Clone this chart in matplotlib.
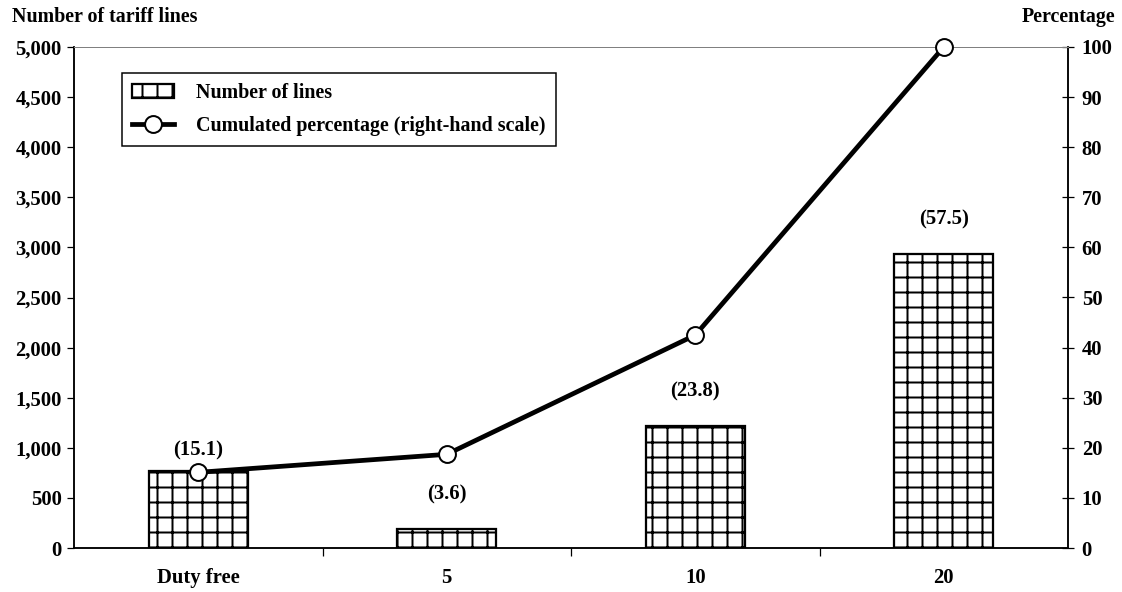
import numpy as np
import matplotlib
matplotlib.use('Agg')
import matplotlib.pyplot as plt
from matplotlib.ticker import FuncFormatter, FixedLocator
from matplotlib.patches import Patch
from matplotlib.lines import Line2D

plt.rcParams['font.family'] = 'Liberation Serif'
plt.rcParams['font.weight'] = 'bold'
plt.rcParams['hatch.linewidth'] = 1.6
plt.rcParams['hatch.color'] = 'black'

# Data
categories = ['Duty free', '5', '10', '20']
num_lines = [770, 185, 1215, 2930]
share_pct = ['(15.1)', '(3.6)', '(23.8)', '(57.5)']
cumulated_pct = [15.1, 18.7, 42.5, 100.0]

x = np.arange(len(categories))

fig = plt.figure(figsize=(1122 / 90, 592 / 90), dpi=90)
ax = fig.add_axes([74 / 1122, 1 - 548 / 592, (1068 - 74) / 1122, (548 - 47) / 592])
ax2 = ax.twinx()

ax.bar(x, num_lines, width=0.4, color='white', edgecolor='black',
       linewidth=1.8, hatch='+', zorder=2)

# share labels above the bars
label_offsets = [8, 20, 20, 20]
for xi, val, txt, off in zip(x, num_lines, share_pct, label_offsets):
    ax.annotate(txt, (xi, val), xytext=(0, off), textcoords='offset points',
                ha='center', va='bottom', fontsize=16.5, fontweight='bold')

ax2.plot(x, cumulated_pct, color='black', linewidth=3.8, marker='o',
         markersize=13.5, markerfacecolor='white', markeredgecolor='black',
         markeredgewidth=1.6, zorder=3, clip_on=False)

ax.set_xlim(-0.5, 3.5)
ax.set_ylim(0, 5000)
ax2.set_ylim(0, 100)

ax.set_yticks(np.arange(0, 5001, 500))
ax.yaxis.set_major_formatter(FuncFormatter(lambda v, p: f'{int(v):,}'))
ax2.set_yticks(np.arange(0, 101, 10))

ax.set_xticks(x)
ax.set_xticklabels(categories)
ax.xaxis.set_minor_locator(FixedLocator([0.5, 1.5, 2.5]))
ax.tick_params(axis='x', which='major', length=0, pad=16, labelsize=16.5)
ax.tick_params(axis='x', which='minor', length=6, width=1, direction='out')
ax.tick_params(axis='y', length=6, width=1, direction='out', labelsize=16.5, pad=4)
ax2.tick_params(axis='y', length=10, width=1, direction='inout', labelsize=16.5, pad=6)

for a in (ax, ax2):
    for lab in a.get_yticklabels() + a.get_xticklabels():
        lab.set_fontweight('bold')
    a.spines['top'].set_color('#808080')
    a.spines['left'].set_linewidth(1.2)
    a.spines['right'].set_linewidth(1.2)
    a.spines['bottom'].set_linewidth(1.2)

fig.text(12 / 1122, 1 - 17 / 592, 'Number of tariff lines', ha='left', va='center',
         fontsize=16, fontweight='bold')
fig.text(1115 / 1122, 1 - 17 / 592, 'Percentage', ha='right', va='center',
         fontsize=16, fontweight='bold')

handles = [
    Patch(facecolor='white', edgecolor='black', hatch='+', linewidth=1.8),
    Line2D([], [], color='black', linewidth=3.8, marker='o', markersize=13.5,
           markerfacecolor='white', markeredgecolor='black', markeredgewidth=1.6),
]
leg = ax2.legend(handles, ['Number of lines', 'Cumulated percentage (right-hand scale)'],
                 loc='upper left', bbox_to_anchor=(48 / 994, 1 - 26 / 501),
                 frameon=True, fancybox=False, edgecolor='black', framealpha=1,
                 prop={'size': 16, 'weight': 'bold'}, handlelength=2.1,
                 handleheight=0.7, borderpad=0.5, labelspacing=0.65, handletextpad=1.1,
                 borderaxespad=0)
leg.get_frame().set_linewidth(1.2)

fig.savefig('out.png', dpi=90)
